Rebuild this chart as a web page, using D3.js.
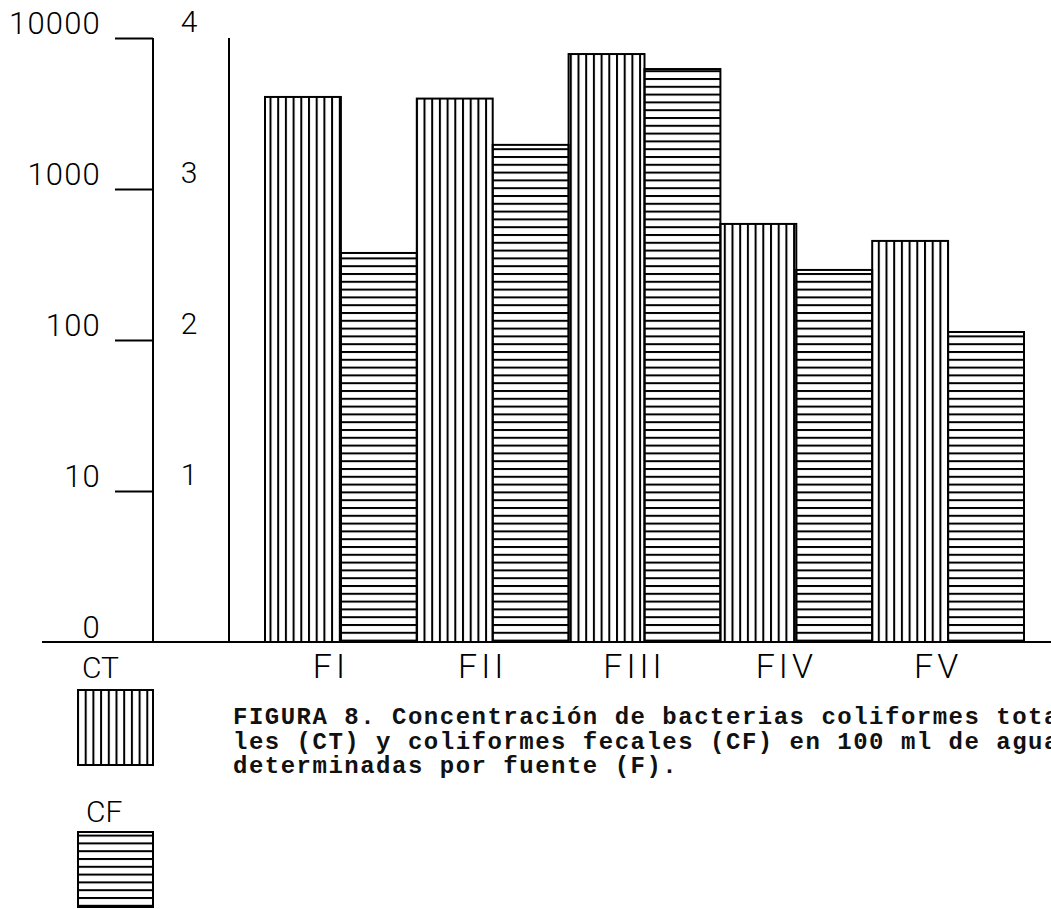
<!DOCTYPE html>
<html>
<head>
<meta charset="utf-8">
<script src="https://d3js.org/d3.v7.min.js"></script>
<style>
  body { margin: 0; background: #fff; }
  .num { font-family: Roboto, "Liberation Sans", sans-serif; font-weight: 300; fill: #000; }
  .cap { font-family: "Liberation Mono", "DejaVu Sans Mono", monospace; font-weight: bold; fill: #111; }
</style>
</head>
<body>
<div id="chart"></div>
<script>
// fuentes (F)
var fuentes = ["FI", "FII", "FIII", "FIV", "FV"];
// coliformes totales y fecales en 100 ml (escala log)
var ct = [4070, 3970, 7830, 587, 453];
var cf = [377, 1960, 6230, 291, 113];
var series = ["CT", "CF"];
// ejes
var tickValues = [1, 10, 100, 1000, 10000];
var tickLabels = ["0", "10", "100", "1000", "10000"];
var logLabels = ["", "1", "2", "3", "4"];
var caption = [
  "FIGURA 8. Concentración de bacterias coliformes tota",
  "les (CT) y coliformes fecales (CF) en 100 ml de agua",
  "determinadas por fuente (F)."
];

var W = 1051, H = 909;
var svg = d3.select("#chart").append("svg")
  .attr("width", W).attr("height", H);

// hatch patterns
var defs = svg.append("defs");
defs.append("pattern").attr("id", "vert")
  .attr("patternUnits", "userSpaceOnUse")
  .attr("width", 7.7).attr("height", 10)
  .append("line")
  .attr("x1", 1).attr("x2", 1).attr("y1", 0).attr("y2", 10)
  .attr("stroke", "#000").attr("stroke-width", 2);
defs.append("pattern").attr("id", "horiz")
  .attr("patternUnits", "userSpaceOnUse")
  .attr("width", 10).attr("height", 7.8)
  .append("line")
  .attr("x1", 0).attr("x2", 10).attr("y1", 1).attr("y2", 1)
  .attr("stroke", "#000").attr("stroke-width", 2);
var fills = {CT: "url(#vert)", CF: "url(#horiz)"};

// scales
var x = d3.scaleBand().domain(fuentes).range([265, 1024]).padding(0);
var xs = d3.scaleBand().domain(series).range([0, x.bandwidth()]).padding(0);
var y = d3.scaleLog().domain([1, 10000]).range([642, 38]);

var data = [];
fuentes.forEach(function(f, i) {
  data.push({f: f, s: "CT", v: ct[i]});
  data.push({f: f, s: "CF", v: cf[i]});
});

// bars
svg.selectAll("rect.bar")
  .data(data)
  .enter()
  .append("rect")
  .attr("class", "bar")
  .attr("x", function(d) { return x(d.f) + xs(d.s); })
  .attr("width", xs.bandwidth())
  .attr("y", function(d) { return y(d.v); })
  .attr("height", function(d) { return y(1) - y(d.v); })
  .attr("fill", function(d) { return fills[d.s]; })
  .attr("stroke", "#000")
  .attr("stroke-width", 2);

// left axis (log scale)
var axisX = 153;
var ax = svg.append("g")
  .attr("transform", "translate(" + axisX + ",0)")
  .call(d3.axisLeft(y)
    .tickValues(tickValues)
    .tickSize(38)
    .tickPadding(12)
    .tickFormat(function(d, i) { return tickLabels[i]; }));
ax.select(".domain").remove();
ax.selectAll(".tick line")
  .attr("stroke", "#000").attr("stroke-width", 2)
  .style("display", function(d) { return d === 1 ? "none" : null; });
ax.selectAll(".tick text")
  .attr("class", "num")
  .attr("font-size", 31)
  .attr("letter-spacing", 1.2)
  .attr("font-family", null)
  .attr("dy", null)
  .attr("y", -5)
  .attr("x", -52);

// vertical axis lines
svg.append("line")
  .attr("x1", axisX).attr("x2", axisX)
  .attr("y1", y(10000)).attr("y2", y(1))
  .attr("stroke", "#000").attr("stroke-width", 2);
svg.append("line")
  .attr("x1", 229).attr("x2", 229)
  .attr("y1", y(10000)).attr("y2", y(1))
  .attr("stroke", "#000").attr("stroke-width", 2);

// log labels 1..4
svg.selectAll("text.loglab")
  .data(tickValues)
  .enter()
  .append("text")
  .attr("class", "num loglab")
  .attr("font-size", 30)
  .attr("text-anchor", "middle")
  .attr("x", 189)
  .attr("y", function(d) { return y(d) - 6; })
  .text(function(d, i) { return logLabels[i]; });

// baseline
svg.append("line")
  .attr("x1", 42).attr("x2", W)
  .attr("y1", y(1)).attr("y2", y(1))
  .attr("stroke", "#000").attr("stroke-width", 2);

// category labels
svg.selectAll("text.cat")
  .data(fuentes)
  .enter()
  .append("text")
  .attr("class", "num cat")
  .attr("font-size", 34)
  .attr("letter-spacing", 4)
  .attr("text-anchor", "middle")
  .attr("x", function(d) { return x(d) + x.bandwidth() / 2 - 10; })
  .attr("y", 678)
  .text(function(d) { return d; });

// legend
var legend = [
  {s: "CT", tx: 82, ty: 678, by: 690},
  {s: "CF", tx: 86, ty: 822, by: 832}
];
legend.forEach(function(l) {
  svg.append("text")
    .attr("class", "num")
    .attr("font-size", 30)
    .attr("x", l.tx)
    .attr("y", l.ty)
    .text(l.s);
  svg.append("rect")
    .attr("x", 78).attr("y", l.by)
    .attr("width", 75).attr("height", 75)
    .attr("fill", fills[l.s])
    .attr("stroke", "#000").attr("stroke-width", 2);
});

// caption
svg.selectAll("text.cap")
  .data(caption)
  .enter()
  .append("text")
  .attr("class", "cap")
  .attr("font-size", 24)
  .attr("letter-spacing", 1.5)
  .attr("x", 233)
  .attr("y", function(d, i) { return 724 + i * 24.5; })
  .text(function(d) { return d; });
</script>
</body>
</html>
